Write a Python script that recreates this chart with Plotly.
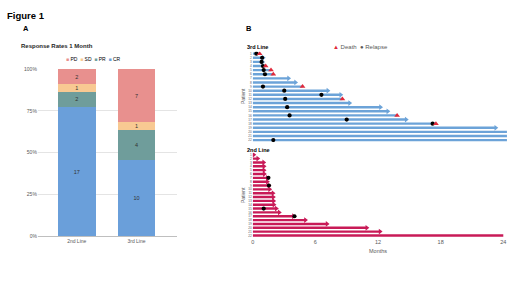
import plotly.graph_objects as go

# ---------------- Panel A data ----------------
categories = ["2nd Line", "3rd Line"]
cr_counts = [17, 10]
pr_counts = [2, 4]
sd_counts = [1, 1]
pd_counts = [2, 7]
pct_ticks = [0, 25, 50, 75, 100]
pct_labels = ["0%", "25%", "50%", "75%", "100%"]

# ---------------- Panel B data ----------------
third_patients = list(range(1, 23))
third_end = [0.66, 1.0, 0.95, 1.24, 1.75, 1.97, 3.43, 4.1, 4.77, 7.2, 8.43, 8.59,
             9.28, 12.24, 12.94, 13.83, 14.7, 17.55, 23.28, 25, 25, 25]
third_relapse = [0.35, 0.9, 0.85, 0.98, 1.05, 1.17, None, None, 0.98, 3.02, 6.58, 3.11,
                 None, 3.3, None, 3.53, 9.0, 17.23, None, None, None, 1.97]
third_death = [1, 0, 0, 1, 1, 1, 0, 0, 1, 0, 0, 1, 0, 0, 0, 1, 0, 1, 0, 0, 0, 0]

second_patients = list(range(1, 23))
second_end = [0.1, 0.48, 1.05, 1.08, 1.08, 1.11, 1.4, 1.4, 1.55, 1.62, 1.94, 1.97,
              2.0, 2.03, 2.26, 2.54, 3.9, 5.05, 7.12, 10.93, 12.2, 24.0]
second_relapse = [None, None, None, None, None, None, 1.5, None, 1.55, None, None, None,
                  None, None, 1.05, None, 4.0, None, None, None, None, None]
second_arrow = [1] * 21 + [0]
month_ticks = [0, 6, 12, 18, 24]

W, H = 520, 292
def px(x):
    return x / W
def py(y):
    return 1 - y / H

C_PD, C_SD, C_PR, C_CR = "#E8908E", "#F8C992", "#6F9D9B", "#6A9FDA"
C_THIRD = "#6CA3D8"
C_SECOND = "#C81A57"
C_DEATH = "#E0283A"
GREY = "#595959"
FONT = "Liberation Sans, Arial, sans-serif"

fig = go.Figure()

# Panel A stacked bars
totals = [a + b + c + d for a, b, c, d in zip(cr_counts, pr_counts, sd_counts, pd_counts)]
for name, vals, col in [("CR", cr_counts, C_CR), ("PR", pr_counts, C_PR),
                        ("SD", sd_counts, C_SD), ("PD", pd_counts, C_PD)]:
    fig.add_trace(go.Bar(
        x=[0, 1], y=[v / t * 100 for v, t in zip(vals, totals)],
        text=[str(v) for v in vals], textposition="inside", insidetextanchor="middle",
        textangle=0, constraintext="none",
        textfont=dict(size=5.5, color="#333333", family=FONT),
        marker=dict(color=col, line=dict(width=0)), width=0.633, name=name,
        showlegend=False, xaxis="x", yaxis="y"))

# Panel B: 3rd line
def seg(ends, pats):
    xs, ys = [], []
    for e, p in zip(ends, pats):
        xs += [0, e, None]
        ys += [p, p, None]
    return xs, ys

xs, ys = seg(third_end, third_patients)
fig.add_trace(go.Scatter(x=xs, y=ys, mode="lines", line=dict(color=C_THIRD, width=2.4),
                         showlegend=False, xaxis="x2", yaxis="y2", hoverinfo="skip"))
fig.add_trace(go.Scatter(
    x=[e for e, d in zip(third_end, third_death) if not d],
    y=[p for p, d in zip(third_patients, third_death) if not d],
    mode="markers", marker=dict(symbol="triangle-right", size=5, color=C_THIRD),
    showlegend=False, xaxis="x2", yaxis="y2"))
fig.add_trace(go.Scatter(
    x=[r for r in third_relapse if r is not None],
    y=[p for p, r in zip(third_patients, third_relapse) if r is not None],
    mode="markers", marker=dict(symbol="circle", size=4.2, color="black"),
    showlegend=False, xaxis="x2", yaxis="y2"))
fig.add_trace(go.Scatter(
    x=[e for e, d in zip(third_end, third_death) if d],
    y=[p for p, d in zip(third_patients, third_death) if d],
    mode="markers", marker=dict(symbol="triangle-up", size=5, color=C_DEATH),
    showlegend=False, xaxis="x2", yaxis="y2"))

# Panel B: 2nd line
xs, ys = seg(second_end, second_patients)
fig.add_trace(go.Scatter(x=xs, y=ys, mode="lines", line=dict(color=C_SECOND, width=2.4),
                         showlegend=False, xaxis="x3", yaxis="y3", hoverinfo="skip"))
fig.add_trace(go.Scatter(
    x=[e for e, a in zip(second_end, second_arrow) if a],
    y=[p for p, a in zip(second_patients, second_arrow) if a],
    mode="markers", marker=dict(symbol="triangle-right", size=5, color=C_SECOND),
    showlegend=False, xaxis="x3", yaxis="y3"))
fig.add_trace(go.Scatter(
    x=[r for r in second_relapse if r is not None],
    y=[p for p, r in zip(second_patients, second_relapse) if r is not None],
    mode="markers", marker=dict(symbol="circle", size=4.2, color="black"),
    showlegend=False, xaxis="x3", yaxis="y3"))

patient_axis = dict(range=[22.5, 0.5], tickvals=third_patients, ticks="",
                    tickfont=dict(size=3.2, color=GREY, family=FONT),
                    showgrid=False, zeroline=False, showline=False)
xb_domain = [px(251.7), px(251.7 + 24.35 * 10.48)]

fig.update_layout(
    width=W, height=H, margin=dict(l=0, r=0, t=0, b=0),
    paper_bgcolor="white", plot_bgcolor="white", barmode="stack",
    font=dict(family=FONT, color=GREY),
    xaxis=dict(domain=[px(36), px(175.7)], range=[-0.65, 1.678], tickvals=[0, 1],
               ticktext=categories, ticks="", showgrid=False, zeroline=False,
               showline=True, linecolor="#BFBFBF", linewidth=1,
               tickfont=dict(size=5, color=GREY), anchor="y"),
    yaxis=dict(domain=[py(238), py(67.5)], range=[0, 100], tickvals=pct_ticks,
               ticktext=pct_labels, ticks="", showgrid=True, gridcolor="#E4E4E4",
               gridwidth=1, zeroline=False, showline=False,
               tickfont=dict(size=5, color=GREY), anchor="x"),
    xaxis2=dict(domain=xb_domain, range=[0, 24.35], visible=False, anchor="y2"),
    yaxis2=dict(domain=[py(142.1), py(49.6)], anchor="x2", **patient_axis),
    xaxis3=dict(domain=xb_domain, range=[0, 24.35], tickvals=month_ticks, ticks="",
                showgrid=False, zeroline=False, showline=False,
                tickfont=dict(size=5.5, color=GREY), anchor="y3"),
    yaxis3=dict(domain=[py(239.3), py(153)], anchor="x3", **patient_axis),
)

def ann(text, x, y, size, color="black", bold=False, xanchor="left", angle=0):
    fig.add_annotation(text=f"<b>{text}</b>" if bold else text, x=px(x), y=py(y),
                       xref="paper", yref="paper", showarrow=False, xanchor=xanchor,
                       yanchor="middle", textangle=angle, borderpad=0,
                       font=dict(size=size, color=color, family=FONT))

ann("Figure 1", 4, 12.5, 9.5, bold=True)
ann("A", 20, 26, 7.5, bold=True)
ann("B", 243.5, 26, 7.5, bold=True)
ann("Response Rates 1 Month", 18.5, 43.7, 6, color="#262626", bold=True)
ann(f"<span style='color:{C_PD}'>■</span> PD  <span style='color:{C_SD}'>■</span> SD  "
    f"<span style='color:{C_PR}'>■</span> PR  <span style='color:{C_CR}'>■</span> CR",
    63, 56.7, 5)
ann("3rd Line", 244.5, 45, 5.5, bold=True)
ann("2nd Line", 244.5, 150, 5.5, bold=True)
ann(f"<span style='color:{C_DEATH}'>▲</span> Death  ● Relapse", 331, 45.3, 6, color=GREY)
ann("Patient", 242, 95, 5, color=GREY, xanchor="center", angle=-90)
ann("Patient", 242, 196, 5, color=GREY, xanchor="center", angle=-90)
ann("Months", 377, 253, 5.5, color=GREY, xanchor="center")

fig.write_html("out.html", config={"displayModeBar": False},
               post_script="document.body.style.margin='0';")
